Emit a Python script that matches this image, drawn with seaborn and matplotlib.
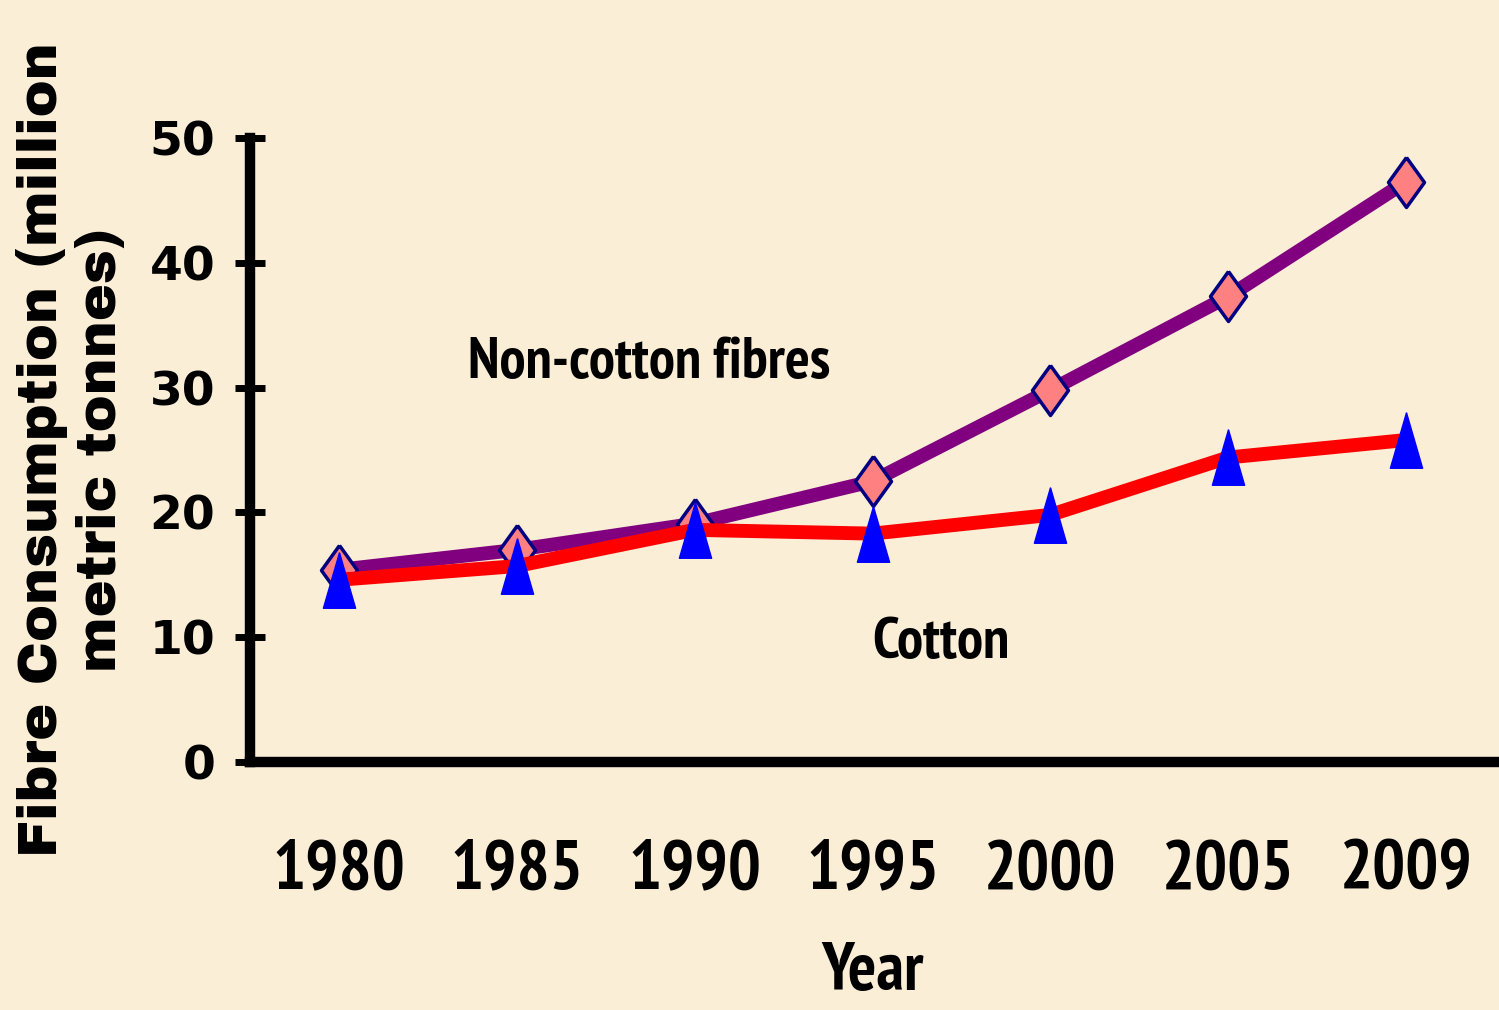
import numpy as np
import pandas as pd
import matplotlib.pyplot as plt
import seaborn as sns

years = ['1980', '1985', '1990', '1995', '2000', '2005', '2009']
non_cotton = [15.4, 17.0, 19.1, 22.5, 29.8, 37.3, 46.5]
cotton = [14.6, 15.7, 18.6, 18.3, 19.8, 24.4, 25.8]
yticks = [0, 10, 20, 30, 40, 50]

bg = '#FAEED6'
sns.set_style('white')
plt.rcParams['text.color'] = 'black'
plt.rcParams['xtick.color'] = 'black'
plt.rcParams['ytick.color'] = 'black'
plt.rcParams['axes.labelcolor'] = 'black'
narrow = ['PT Sans Narrow', 'DejaVu Sans']
heavy = ['Archivo Black', 'DejaVu Sans']

fig = plt.figure(figsize=(14.99, 10.10), dpi=100, facecolor=bg)
ax = fig.add_axes([250 / 1499, 1 - 762 / 1010, 1245 / 1499, 624 / 1010])
ax.set_facecolor(bg)

# marker shapes: tall diamond and narrow triangle
diamond = [(0, 1), (0.72, 0), (0, -1), (-0.72, 0), (0, 1)]
tri = [(0, 1), (0.58, -1), (-0.58, -1), (0, 1)]

df = pd.DataFrame({'Year': years, 'non': non_cotton, 'cot': cotton})

sns.lineplot(data=df, x='Year', y='non', ax=ax, color='#800080', lw=10,
             marker=diamond, markersize=36, markerfacecolor='#FF8080',
             markeredgecolor='#000080', markeredgewidth=2.5, zorder=3)
sns.lineplot(data=df, x='Year', y='cot', ax=ax, color='#FF0000', lw=10,
             marker=tri, markersize=40, markerfacecolor='#0000FF',
             markeredgecolor='#0000FF', markeredgewidth=1, zorder=4)

ax.set_xlim(-0.5, 6.5)
ax.set_ylim(0, 50)
ax.set_yticks(yticks)
ax.set_yticklabels([str(v) for v in yticks], fontfamily='DejaVu Sans', fontweight='bold', fontsize=34)
ax.set_xticks(range(len(years)))
ax.set_xticklabels(years, fontfamily=narrow, fontweight='bold', fontsize=50)
ax.set_xticks(np.arange(-0.5, 7, 1), minor=True)
ax.tick_params(axis='x', which='major', length=0, pad=56)
ax.tick_params(axis='x', which='minor', direction='inout', length=30, width=5, color='black')
ax.tick_params(axis='y', direction='inout', length=22, width=5, color='black', pad=14, left=True)

for s in ['top', 'right']:
    ax.spines[s].set_visible(False)
for s in ['left', 'bottom']:
    ax.spines[s].set_linewidth(7.5)
    ax.spines[s].set_color('black')
    ax.spines[s].set_zorder(5)

ax.set_xlabel('Year', fontfamily=narrow, fontweight='bold', fontsize=48, labelpad=28)
ax.set_ylabel('Fibre Consumption (million\nmetric tonnes)', fontfamily=heavy,
              fontsize=40, linespacing=1.2)
ax.yaxis.set_label_coords(-0.099, 0.5)

ax.text(0.726, 30.8, 'Non-cotton fibres', fontfamily=narrow, fontweight='bold',
        fontsize=42, ha='left', va='baseline')
ax.text(3.0, 8.3, 'Cotton', fontfamily=narrow, fontweight='bold',
        fontsize=42, ha='left', va='baseline')

fig.savefig('out.png', dpi=100, facecolor=bg)
